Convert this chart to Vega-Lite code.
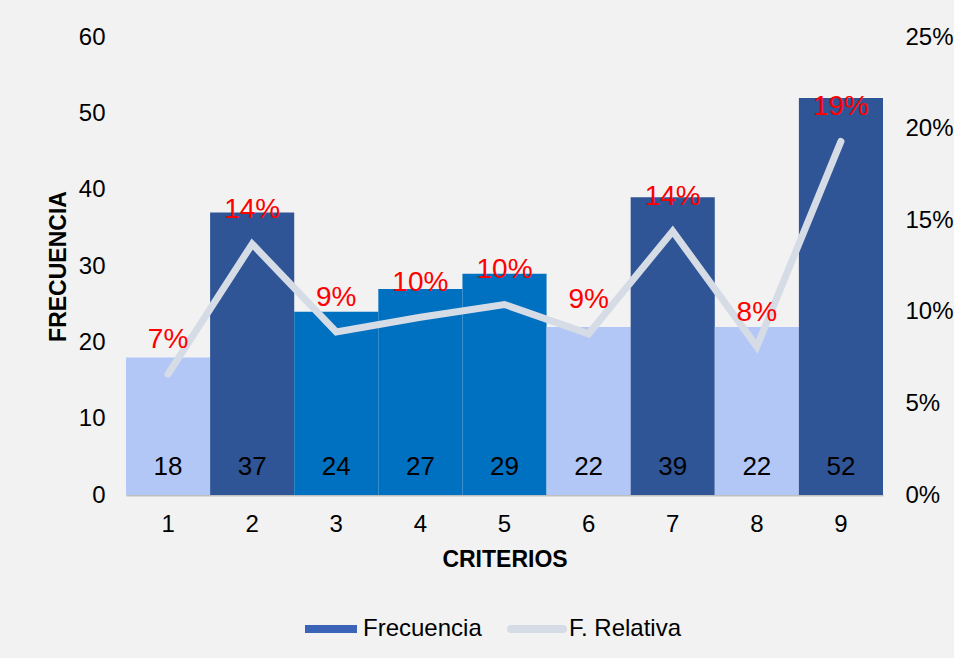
{
  "$schema": "https://vega.github.io/schema/vega-lite/v6.json",
  "autosize": {"type": "fit", "contains": "padding"},
  "width": 954,
  "height": 658,
  "padding": {"left": 47, "top": 25, "right": 0, "bottom": 87},
  "background": "#F2F2F2",
  "config": {
    "font": "Liberation Sans",
    "view": {"stroke": null},
    "axis": {"grid": false, "ticks": false, "labelFontSize": 24, "labelColor": "#000000", "titleColor": "#000000", "titleFontSize": 23, "titleFontWeight": "bold", "labelFont": "Liberation Sans", "titleFont": "Liberation Sans"},
    "legend": {"labelFont": "Liberation Sans"}
  },
  "data": {
    "values": [
      {"c": 1, "f": 18, "p": 0.066, "lbl": "7%", "g": "claro"},
      {"c": 2, "f": 37, "p": 0.137, "lbl": "14%", "g": "oscuro"},
      {"c": 3, "f": 24, "p": 0.089, "lbl": "9%", "g": "medio"},
      {"c": 4, "f": 27, "p": 0.097, "lbl": "10%", "g": "medio"},
      {"c": 5, "f": 29, "p": 0.104, "lbl": "10%", "g": "medio"},
      {"c": 6, "f": 22, "p": 0.088, "lbl": "9%", "g": "claro"},
      {"c": 7, "f": 39, "p": 0.144, "lbl": "14%", "g": "oscuro"},
      {"c": 8, "f": 22, "p": 0.081, "lbl": "8%", "g": "claro"},
      {"c": 9, "f": 52, "p": 0.193, "lbl": "19%", "g": "oscuro"}
    ]
  },
  "encoding": {
    "x": {
      "field": "c", "type": "ordinal",
      "scale": {"paddingInner": 0, "paddingOuter": 0},
      "axis": {"title": "CRITERIOS", "labelAngle": 0, "labelPadding": 17, "titlePadding": 12, "domainColor": "#BFBFBF", "domainWidth": 2}
    }
  },
  "layer": [
    {
      "layer": [
        {
          "mark": {"type": "bar"},
          "encoding": {
            "y": {"field": "f", "type": "quantitative", "scale": {"domain": [0, 60], "nice": false},
                  "axis": {"title": "FRECUENCIA", "values": [0, 10, 20, 30, 40, 50, 60], "domain": false, "labelPadding": 21, "titlePadding": 8}},
            "color": {"field": "g", "type": "nominal",
                      "scale": {"domain": ["claro", "oscuro", "medio"], "range": ["#B3C7F7", "#2F5597", "#0070C0"]},
                      "legend": null}
          }
        },
        {
          "mark": {"type": "text", "fontSize": 26, "color": "#000000", "baseline": "middle"},
          "encoding": {
            "y": {"datum": 3.7, "type": "quantitative"},
            "text": {"field": "f"}
          }
        }
      ]
    },
    {
      "layer": [
        {
          "mark": {"type": "line", "strokeWidth": 7, "strokeCap": "round", "strokeJoin": "miter"},
          "encoding": {
            "y": {"field": "p", "type": "quantitative", "scale": {"domain": [0, 0.25], "nice": false},
                  "axis": {"orient": "right", "format": ".0%", "values": [0, 0.05, 0.1, 0.15, 0.2, 0.25], "domain": false, "labelPadding": 22, "title": null}},
            "color": {"datum": "F. Relativa",
                      "scale": {"domain": ["Frecuencia", "F. Relativa"], "range": ["#3B64B9", "#D6DCE5"]},
                      "legend": {"title": null, "orient": "none", "legendX": 175, "legendY": 562, "direction": "horizontal", "symbolType": "stroke", "symbolSize": 2704, "symbolStrokeWidth": 8, "labelFontSize": 24, "labelColor": "#000000", "columnPadding": 13, "labelOffset": 2,
                                 "encode": {"symbols": {"update": {"strokeCap": {"signal": "datum.value === 'Frecuencia' ? 'butt' : 'round'"}}}}}}
          }
        },
        {
          "mark": {"type": "text", "fontSize": 28, "color": "#FF0000", "dy": -34, "baseline": "middle"},
          "encoding": {
            "y": {"field": "p", "type": "quantitative"},
            "text": {"field": "lbl"}
          }
        }
      ]
    }
  ],
  "resolve": {"scale": {"y": "independent", "color": "independent"}}
}
